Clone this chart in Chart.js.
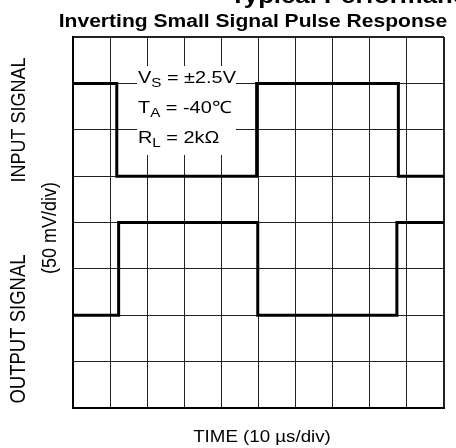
<!DOCTYPE html>
<html>
<head>
<meta charset="utf-8">
<script src="https://cdn.jsdelivr.net/npm/chart.js@4/dist/chart.umd.min.js"></script>
<style>
  html, body { margin: 0; padding: 0; background: #fff; }
  #wrap { width: 456px; height: 448px; }
</style>
</head>
<body>
<div id="wrap"><canvas id="scope" width="456" height="448"></canvas></div>
<script>
// scope divisions: 10 across (10 us/div), 8 down (50 mV/div)
const xDivs = [0, 10];
const yDivs = [0, 8];

// edge times (div) and level after each edge (div from bottom)
const inputTimes = [0, 1.18, 4.95, 8.77, 10];
const inputLevels = [7, 5, 7, 5, 5];
const outputTimes = [0, 1.23, 4.98, 8.73, 10];
const outputLevels = [2, 4, 2, 4, 4];

const conditions = [
  ['V', 'S', ' = ±2.5V'],
  ['T', 'A', ' = -40℃'],
  ['R', 'L', ' = 2kΩ']
];

const FONT = '"Liberation Sans", Arial, sans-serif';
const STRETCH = 1.17;

const toPoints = (xs, ys) => xs.map((x, i) => ({ x, y: ys[i] }));

// stretched text helper (the sheet's lettering is a bit wide)
function wideText(ctx, txt, x, y, font, align, rot) {
  ctx.save();
  ctx.translate(x, y);
  ctx.scale(STRETCH, 1);
  if (rot) ctx.rotate(rot);
  ctx.font = font;
  ctx.textAlign = align || 'left';
  ctx.fillText(txt, 0, 0);
  ctx.restore();
}

const labelsPlugin = {
  id: 'scopeLabels',
  afterDatasetsDraw(chart) {
    const ctx = chart.ctx;
    ctx.save();

    // condition box blanks the grid behind it
    ctx.fillStyle = '#fff';
    ctx.fillRect(137, 66, 99, 89);
    ctx.fillStyle = '#000';
    ctx.textBaseline = 'alphabetic';
    conditions.forEach((c, i) => {
      const y = 83 + i * 30;
      ctx.save();
      ctx.translate(138, y);
      ctx.scale(STRETCH, 1);
      ctx.font = '17px ' + FONT;
      ctx.fillText(c[0], 0, 0);
      let w = ctx.measureText(c[0]).width;
      ctx.font = '13px ' + FONT;
      ctx.fillText(c[1], w, 4);
      w += ctx.measureText(c[1]).width;
      ctx.font = '17px ' + FONT;
      ctx.fillText(c[2], w, 0);
      ctx.restore();
    });

    // headings
    wideText(ctx, 'Typical Performance Curves', 230, 3, 'bold 22px ' + FONT, 'left');
    wideText(ctx, 'Inverting Small Signal Pulse Response', 253, 27, 'bold 18px ' + FONT, 'center');

    // axis captions
    wideText(ctx, 'TIME (10 µs/div)', 262, 442, '16px ' + FONT, 'center');
    ctx.textBaseline = 'middle';
    wideText(ctx, 'INPUT SIGNAL', 19, 120, '18px ' + FONT, 'center', -Math.PI / 2);
    wideText(ctx, 'OUTPUT SIGNAL', 19, 329, '18.5px ' + FONT, 'center', -Math.PI / 2);
    wideText(ctx, '(50 mV/div)', 50, 228, '18px ' + FONT, 'center', -Math.PI / 2);
    ctx.restore();
  }
};

const edgeWidth = (c, last) => (c.index === 0 || c.index === last) ? 2 : 1;

new Chart(document.getElementById('scope'), {
  type: 'line',
  data: {
    datasets: [
      {
        label: 'Input',
        data: toPoints(inputTimes, inputLevels),
        borderColor: '#000',
        borderWidth: 3,
        stepped: 'before',
        pointRadius: 0,
        fill: false
      },
      {
        label: 'Output',
        data: toPoints(outputTimes, outputLevels),
        borderColor: '#000',
        borderWidth: 3,
        stepped: 'before',
        pointRadius: 0,
        fill: false
      }
    ]
  },
  options: {
    responsive: false,
    animation: false,
    layout: { padding: { left: 73, top: 37, right: 12, bottom: 40 } },
    plugins: { legend: { display: false }, tooltip: { enabled: false } },
    scales: {
      x: {
        type: 'linear',
        min: xDivs[0], max: xDivs[1],
        ticks: { display: false, stepSize: 1 },
        grid: { color: '#222', lineWidth: c => edgeWidth(c, 10), drawTicks: false },
        border: { color: '#000', width: 2 }
      },
      y: {
        type: 'linear',
        min: yDivs[0], max: yDivs[1],
        ticks: { display: false, stepSize: 1 },
        grid: { color: '#222', lineWidth: c => edgeWidth(c, 8), drawTicks: false },
        border: { color: '#000', width: 2 }
      }
    }
  },
  plugins: [labelsPlugin]
});
</script>
</body>
</html>
